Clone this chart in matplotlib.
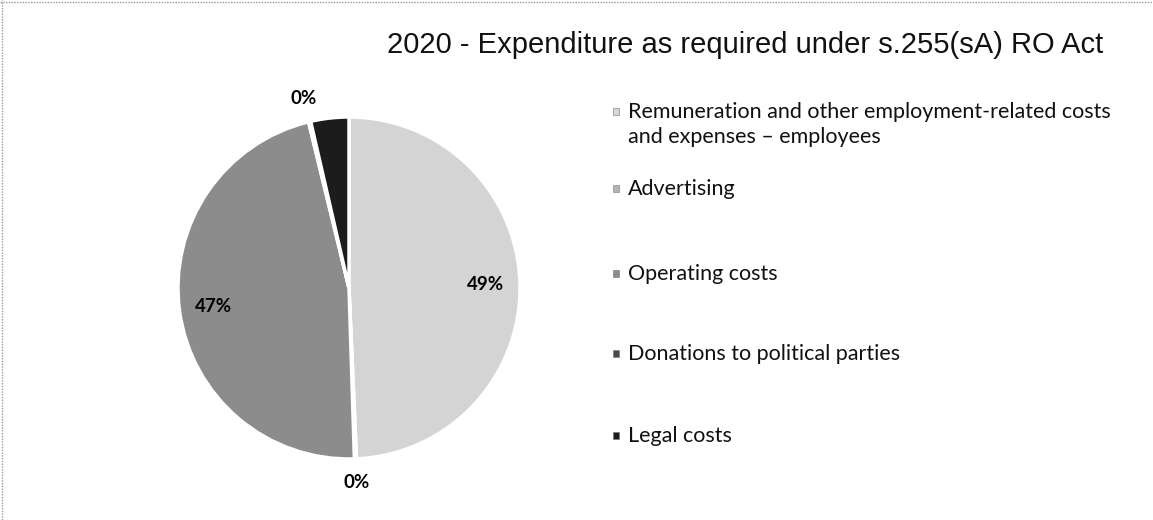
import numpy as np
import matplotlib
matplotlib.use("Agg")
import matplotlib.pyplot as plt
from matplotlib.patches import Rectangle
from matplotlib.lines import Line2D

# ---- data ----
categories = [
    "Remuneration and other employment-related costs\nand expenses \u2013 employees",
    "Advertising",
    "Operating costs",
    "Donations to political parties",
    "Legal costs",
]
shares = [49.3, 0.2, 46.7, 0.2, 3.6]
colors = ["#d4d4d4", "#b4b4b4", "#8c8c8c", "#4a4a4a", "#1c1c1c"]
title = "2020 - Expenditure as required under s.255(sA) RO Act"

W, H = 1153, 520
fig = plt.figure(figsize=(W / 100, H / 100), dpi=100)
fig.patch.set_facecolor("white")

# pie axes: center (349,288), radius 171 px
cx, cy, r = 349, 288, 171
ax = fig.add_axes([(cx - r) / W, (H - cy - r) / H, 2 * r / W, 2 * r / H])
wedges, texts, autotexts = ax.pie(
    shares, colors=colors, startangle=90, counterclock=False,
    autopct="%.0f%%", pctdistance=0.8,
    wedgeprops=dict(edgecolor="white", linewidth=2.5),
    textprops=dict(family=["Lato", "DejaVu Sans"], fontsize=13.5,
                   fontweight="bold", color="black"),
)
for w, t, v, c in zip(wedges, autotexts, shares, colors):
    if v < 1:
        ang = np.deg2rad((w.theta1 + w.theta2) / 2)
        t.set_position((1.14 * np.cos(ang), 1.14 * np.sin(ang)))
    elif v < 10:
        # label is black on the black slice in the reference
        t.set_color(c)
ax.set_xlim(-1, 1)
ax.set_ylim(-1, 1)
ax.set_aspect("equal")
ax.axis("off")

# title
fig.text(745 / W, 1 - 53 / H, title, ha="center", va="baseline",
         family=["Liberation Sans", "DejaVu Sans"], fontsize=21, color="#111111")

# legend (manual layout like Excel); baseline of first line of each entry
leg_base = [118, 195, 280, 360, 442]
mx, tx = 616, 628
for lab, col, yb in zip(categories, colors, leg_base):
    fig.text(tx / W, 1 - (yb - 16) / H, lab, ha="left", va="top",
             family=["Lato", "DejaVu Sans"], fontsize=15.5, color="#111111",
             linespacing=1.3)
    my = yb - 7
    fig.patches.append(Rectangle(((mx - 3.5) / W, 1 - (my + 3.5) / H), 7 / W, 7 / H,
                                 transform=fig.transFigure, facecolor=col,
                                 edgecolor="#777777", linewidth=0.4))

# scanned border (top and left)
fig.lines.append(Line2D([0, 1], [1 - 2 / H, 1 - 2 / H], transform=fig.transFigure,
                        color="#9a9a9a", lw=1, ls=(0, (1, 1))))
fig.lines.append(Line2D([2 / W, 2 / W], [0, 1], transform=fig.transFigure,
                        color="#9a9a9a", lw=1, ls=(0, (1, 1))))

fig.savefig("out.png", dpi=100, facecolor="white")
